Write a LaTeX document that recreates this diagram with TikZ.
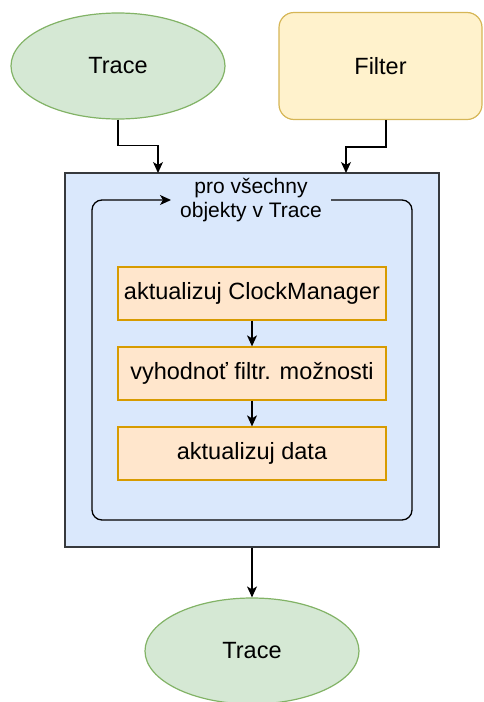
\documentclass[tikz,border=0pt]{standalone}
\usepackage{fontspec}
\setmainfont{Liberation Sans}
\usetikzlibrary{shapes.geometric,arrows.meta,calc}
\definecolor{greenfill}{HTML}{D5E8D4}
\definecolor{greenline}{HTML}{82B366}
\definecolor{yellowfill}{HTML}{FFF2CC}
\definecolor{yellowline}{HTML}{D6B656}
\definecolor{bluefill}{HTML}{DAE8FC}
\definecolor{grayline}{HTML}{36393D}
\definecolor{orangefill}{HTML}{FFE6CC}
\definecolor{orangeline}{HTML}{D79B00}
\tikzset{
  mainfont/.style={font=\fontsize{23.5}{27}\selectfont},
  terminal/.style={ellipse, draw=greenline, fill=greenfill, line width=1.2pt,
    minimum width=214pt, minimum height=106pt, inner sep=0pt, mainfont},
  filterbox/.style={rectangle, rounded corners=15pt, draw=yellowline, fill=yellowfill,
    line width=1.2pt, minimum width=203pt, minimum height=107pt, inner sep=0pt, mainfont},
  stepbox/.style={rectangle, draw=orangeline, fill=orangefill, line width=1.3pt,
    minimum width=268pt, minimum height=53pt, inner sep=0pt, mainfont},
  outerbox/.style={rectangle, draw=grayline, fill=bluefill, line width=1.4pt,
    minimum width=374pt, minimum height=374pt, inner sep=0pt},
  arr/.style={draw=black, line width=1.3pt,
    -{Stealth[length=11pt,width=10pt,inset=3pt]}},
  loopline/.style={draw=black, line width=1.3pt, rounded corners=10pt}
}
\begin{document}
\begin{tikzpicture}[x=1pt,y=-1pt]
  \useasboundingbox (0,0) rectangle (483,702);

  % inputs
  \node[terminal] (tracein) at (118,66) {Trace};
  \node[filterbox] (filter) at (380.5,66) {Filter};

  % processing block
  \node[outerbox] (block) at (252,360) {};
  \coordinate (in1) at (158,173);
  \coordinate (in2) at (346,173);

  % loop over all objects
  \node[font=\fontsize{21}{24}\selectfont, align=center, inner xsep=9pt, inner ysep=0pt]
    (looplbl) at (251,200) {pro všechny\\objekty v Trace};
  \coordinate (lr) at (412,200);
  \coordinate (lb) at (412,520);
  \coordinate (ll) at (92,520);
  \coordinate (lt) at (92,200);
  \draw[loopline, -{Stealth[length=11pt,width=10pt,inset=3pt]}]
    (looplbl.east) -- (lr) -- (lb) -- (ll) -- (lt) -- (looplbl.west);

  % steps
  \node[stepbox] (s1) at (252,293.5) {aktualizuj ClockManager};
  \node[stepbox] (s2) at (252,373.5) {vyhodnoť filtr. možnosti};
  \node[stepbox] (s3) at (252,453.5) {aktualizuj data};

  % output
  \node[terminal] (traceout) at (252,651) {Trace};

  % connectors
  \draw[arr] (tracein.south) -- ++(0,26) -| (in1);
  \draw[arr] ($(filter.south)+(5.5,0)$) -- ++(0,27) -| (in2);
  \draw[arr] (s1) -- (s2);
  \draw[arr] (s2) -- (s3);
  \draw[arr] (block.south) -- (traceout.north);
\end{tikzpicture}
\end{document}
